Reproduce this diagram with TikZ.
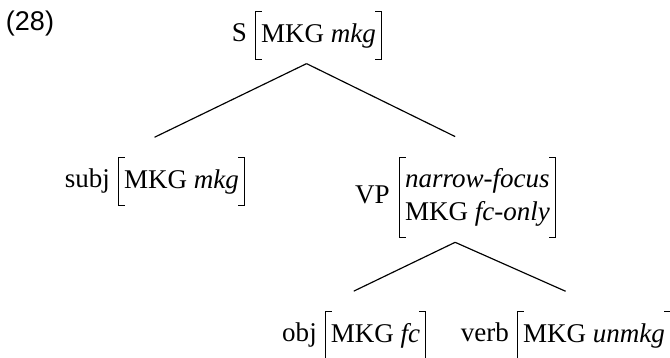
\documentclass[tikz,border=0pt]{standalone}
\usepackage{fontspec}
\setmainfont{Liberation Serif}
\newfontfamily\exnofont{Liberation Sans}
\usetikzlibrary{positioning,fit}
\tikzset{
    cat/.style = {
        inner sep=0pt,
        text height=7pt,
        text depth=2.2pt,
        },
    bracket/.style = {
        line width=0.45pt,
        },
    avm/.style = {
        inner xsep=2pt,
        inner ysep=4.2pt,
        align=left,
        append after command = {\pgfextra{
            \draw[bracket] ([xshift=2.5pt]\tikzlastnode.north west) -| (\tikzlastnode.south west) -- ++(2.5pt,0);
            \draw[bracket] ([xshift=-2.5pt]\tikzlastnode.north east) -| (\tikzlastnode.south east) -- ++(-2.5pt,0);
            }},
        },
    whole/.style = {
        inner xsep=0pt,
        inner ysep=1.5pt,
        },
    branch/.style = {
        line width=0.45pt,
        },
}

\begin{document}
\begin{tikzpicture}[
            x=0.3846pt, y=-0.3846pt,
            font=\fontsize{10.4}{12.7}\selectfont,
            ]
            \useasboundingbox (0,0) rectangle (670,357);
            \node (exno) at (30,23) {\exnofont (28)};

            % root
            \node [avm] (s-avm) at (318.5,35.5) {MKG \textit{mkg}};
            \node [cat, left=3pt of s-avm] (s-cat) {S};
            \node [whole, fit=(s-cat)(s-avm)] (s) {};

            % daughters
            \node [avm] (subj-avm) at (181.5,181.5) {MKG \textit{mkg}};
            \node [cat, left=3pt of subj-avm] (subj-cat) {subj};
            \node [whole, fit=(subj-cat)(subj-avm)] (subj) {};

            \node [avm] (vp-avm) at (477.5,197.5) {\textit{narrow-focus}\\MKG \textit{fc-only}};
            \node [cat, left=3.5pt of vp-avm] (vp-cat) {VP};
            \node [whole, fit=(vp-cat)(vp-avm)] (vp) {};

            % daughters of VP
            \node [avm] (obj-avm) at (375.5,335.5) {MKG \textit{fc}};
            \node [cat, left=3pt of obj-avm] (obj-cat) {obj};
            \node [whole, fit=(obj-cat)(obj-avm)] (obj) {};

            \node [avm] (verb-avm) at (594,335.5) {MKG \textit{unmkg}};
            \node [cat, left=3pt of verb-avm] (verb-cat) {verb};
            \node [whole, fit=(verb-cat)(verb-avm)] (verb) {};

            \draw[branch] (s.south) -- ([yshift=6.2pt]subj.north);
            \draw[branch] (s.south) -- ([yshift=6.2pt]vp.north);
            \draw[branch] (vp.south) -- ([yshift=6.2pt]obj.north);
            \draw[branch] (vp.south) -- ([yshift=6.2pt]verb.north);
        \end{tikzpicture}
\end{document}
